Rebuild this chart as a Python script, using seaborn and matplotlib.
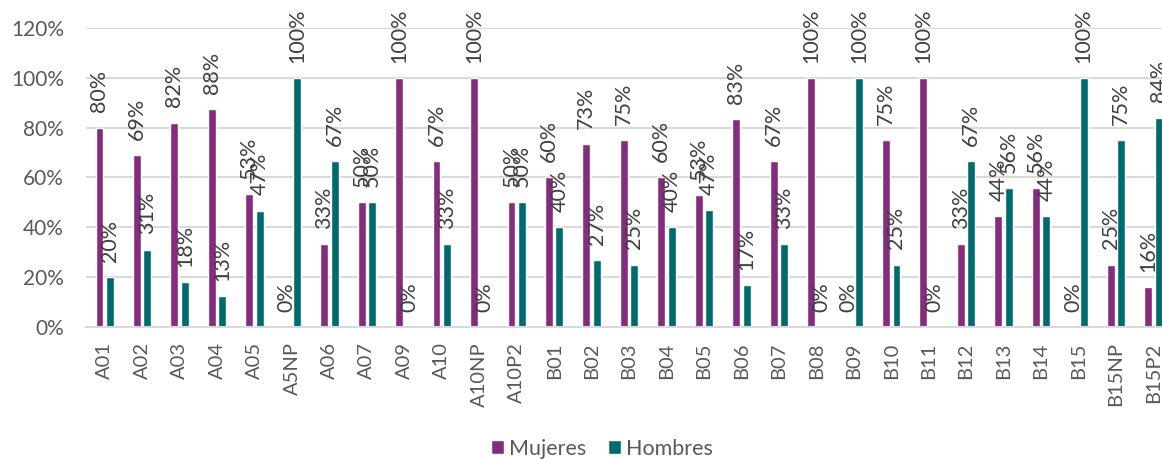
import matplotlib
matplotlib.use("Agg")
import matplotlib.pyplot as plt
from matplotlib.patches import Patch
import seaborn as sns
import pandas as pd

categories = ["A01", "A02", "A03", "A04", "A05", "A5NP", "A06", "A07", "A09", "A10",
              "A10NP", "A10P2", "B01", "B02", "B03", "B04", "B05", "B06", "B07", "B08",
              "B09", "B10", "B11", "B12", "B13", "B14", "B15", "B15NP", "B15P2"]
mujeres = [80, 69, 82, 87.5, 53.3, 0, 33.3, 50, 100, 66.7,
           100, 50, 60, 73.3, 75, 60, 53, 83.3, 66.7, 100,
           0, 75, 100, 33.3, 44.4, 55.6, 0, 25, 16]
hombres = [20, 31, 18, 12.5, 46.7, 100, 66.7, 50, 0, 33.3,
           0, 50, 40, 26.7, 25, 40, 47, 16.7, 33.3, 0,
           100, 25, 0, 66.7, 55.6, 44.4, 100, 75, 84]
series = ["Mujeres", "Hombres"]
colors = ["#852C7E", "#006B6E"]

df = pd.DataFrame({
    "cat": categories * 2,
    "val": mujeres + hombres,
    "sexo": [series[0]] * len(categories) + [series[1]] * len(categories),
})

sns.set_theme(style="white")
plt.rcParams["font.family"] = ["Lato", "DejaVu Sans"]

fig = plt.figure(figsize=(11.62, 4.59), dpi=100)
ax = fig.add_axes([0.074, 0.2876, 0.9347, 0.6514])

sns.barplot(data=df, x="cat", y="val", hue="sexo", order=categories, hue_order=series,
            palette=colors, width=0.56, gap=0.25, saturation=1, ax=ax, legend=False,
            errorbar=None)

for cont, vals in zip(ax.containers, [mujeres, hombres]):
    labels = [f"{int(v + 0.5)}%" for v in vals]
    ax.bar_label(cont, labels=labels, rotation=90, padding=11, fontsize=15.5, color="#404040")

ax.set_xlim(-0.5, len(categories) - 0.5)
ax.set_ylim(0, 120)
ax.set_yticks([0, 20, 40, 60, 80, 100, 120])
ax.set_yticklabels([f"{t}%" for t in [0, 20, 40, 60, 80, 100, 120]])
ax.yaxis.grid(True, color="#D9D9D9", linewidth=1.5)
ax.set_axisbelow(True)
for s in ["top", "right", "left"]:
    ax.spines[s].set_visible(False)
ax.spines["bottom"].set_color("#D9D9D9")
ax.spines["bottom"].set_linewidth(1.5)
ax.tick_params(axis="x", rotation=90, labelsize=14.5, colors="#595959", length=0, pad=11)
ax.tick_params(axis="y", labelsize=15, colors="#595959", length=0, pad=16)
ax.set_xlabel("")
ax.set_ylabel("")

handles = [Patch(facecolor=c, label=s) for c, s in zip(colors, series)]
fig.legend(handles=handles, loc="center", bbox_to_anchor=(0.518, 0.022), ncol=2,
           frameon=False, fontsize=15.5, handlelength=0.6, handleheight=0.6,
           handletextpad=0.25, columnspacing=1.0, labelcolor="#595959",
           borderpad=0.0)

fig.savefig("out.png", dpi=100)
